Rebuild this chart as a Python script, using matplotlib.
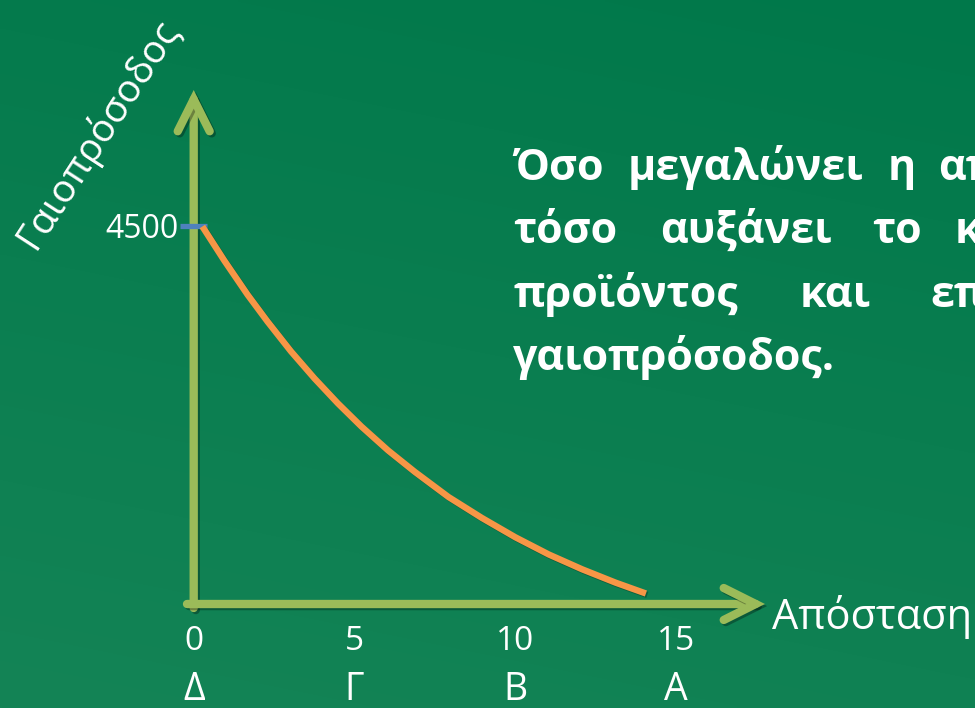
import numpy as np
import matplotlib
matplotlib.use('Agg')
import matplotlib.pyplot as plt
import matplotlib.patheffects as pe
import matplotlib.transforms as mtransforms
from matplotlib.colors import to_rgb

plt.rcParams['font.family'] = ['Open Sans', 'DejaVu Sans']

# ---------------- data ----------------
distance = [0.27, 0.95, 1.68, 2.30, 3.03, 3.76, 4.49, 5.22, 6.05, 6.88,
            7.93, 8.97, 10.01, 11.05, 12.09, 13.13, 14.07]
rent = [4500, 4095, 3685, 3365, 3010, 2688, 2390, 2115, 1830, 1575,
        1275, 1025, 795, 590, 413, 254, 125]
tick_values = [0, 5, 10, 15]
tick_letters = ['Δ', 'Γ', 'Β', 'Α']
rent_max = 4500
rent_max_label = '4500'
y_label = 'Γαιοπρόσοδος'
x_label = 'Απόσταση'
paragraph_lines = [
    ['Όσο', 'μεγαλώνει', 'η', 'απόσταση'],
    ['τόσο', 'αυξάνει', 'το', 'κόστος'],
    ['προϊόντος', 'και', 'επομένως'],
    ['γαιοπρόσοδος.'],
]

# ---------------- layout ----------------
W, H = 975, 708
word_x_px = [[513, 628, 888, 938],
             [513, 660, 872, 955],
             [513, 800, 930],
             [513]]
line_base_px = [180, 243, 307, 370]

bg_dark = np.array(to_rgb('#00784A'))
bg_light = np.array(to_rgb('#148456'))
axis_col = '#9BBB59'
curve_col = '#F79646'
tick_col = '#4F81BD'

fig = plt.figure(figsize=(W / 100, H / 100), dpi=100)
ax = fig.add_axes([0, 0, 1, 1])
x0px, xscale = 193.7, 32.14
y0px, yscale = 604.0, 377.5 / 4500
ax.set_xlim(-x0px / xscale, (W - x0px) / xscale)
ax.set_ylim(-(H - y0px) / yscale, y0px / yscale)
ax.axis('off')

# background gradient (top-right dark -> bottom-left light); row 0 = top
gy, gx = np.mgrid[0:1:200j, 0:1:200j]
t = np.clip(0.78 * gy + 0.22 * (1 - gx), 0, 1)
img = bg_dark[None, None, :] * (1 - t[..., None]) + bg_light[None, None, :] * t[..., None]
ax.imshow(img, extent=[0, 1, 0, 1], transform=ax.transAxes, aspect='auto',
          origin='upper', zorder=0, interpolation='bilinear')


def fx(px):
    return px / W


def fy(py):
    return 1 - py / H


shadow = [pe.SimpleLineShadow(offset=(1.5, -1.5), shadow_color='black', alpha=0.3),
          pe.Normal()]

# axes arrows
arrow_kw = dict(arrowstyle='->,head_length=23,head_width=11.5', lw=6.0, color=axis_col,
                capstyle='round', joinstyle='miter', shrinkA=0, shrinkB=0,
                mutation_scale=1, path_effects=shadow)
ax.annotate('', xy=(0, (y0px - 90) / yscale), xytext=(0, -(608 - y0px) / yscale),
            arrowprops=arrow_kw, zorder=3)
ax.annotate('', xy=((765 - x0px) / xscale, 0), xytext=((187 - x0px) / xscale, 0),
            arrowprops=arrow_kw, zorder=3)

# marker of the maximum value on the y axis
ax.plot([-0.42, 0.42], [rent_max, rent_max], color=tick_col, lw=3.8,
        solid_capstyle='butt', zorder=4)

# rent curve
ax.plot(distance, rent, color=curve_col, lw=4.6, solid_capstyle='butt',
        solid_joinstyle='round', zorder=5,
        path_effects=[pe.SimpleLineShadow(offset=(1, -1), shadow_color='black', alpha=0.25),
                      pe.Normal()])

# tick labels
blend = mtransforms.blended_transform_factory(ax.transData, ax.transAxes)
for v, letter in zip(tick_values, tick_letters):
    ax.text(v, fy(650), str(v), transform=blend, ha='center', va='baseline',
            fontsize=24, color='white', zorder=6)
    ax.text(v, fy(700), letter, transform=blend, ha='center', va='baseline',
            fontsize=27, color='white', zorder=6)

ax.text(fx(179), fy(230), rent_max_label, transform=ax.transAxes, ha='right',
        va='center', fontsize=23, color='white', zorder=6)

# axis labels
ax.text(fx(772), fy(629), x_label, transform=ax.transAxes, ha='left', va='baseline',
        fontsize=30, color='white', zorder=6)
ax.text(fx(97), fy(134), y_label, transform=ax.transAxes, ha='center', va='center',
        rotation=57, fontsize=28, color='white', zorder=6)

# paragraph (justified, clipped at the right edge)
for words, xs, base in zip(paragraph_lines, word_x_px, line_base_px):
    for w, xp in zip(words, xs):
        ax.text(fx(xp), fy(base), w, transform=ax.transAxes, ha='left', va='baseline',
                fontsize=31, fontweight='bold', color='white', zorder=6)

fig.savefig('out.png', dpi=100)
